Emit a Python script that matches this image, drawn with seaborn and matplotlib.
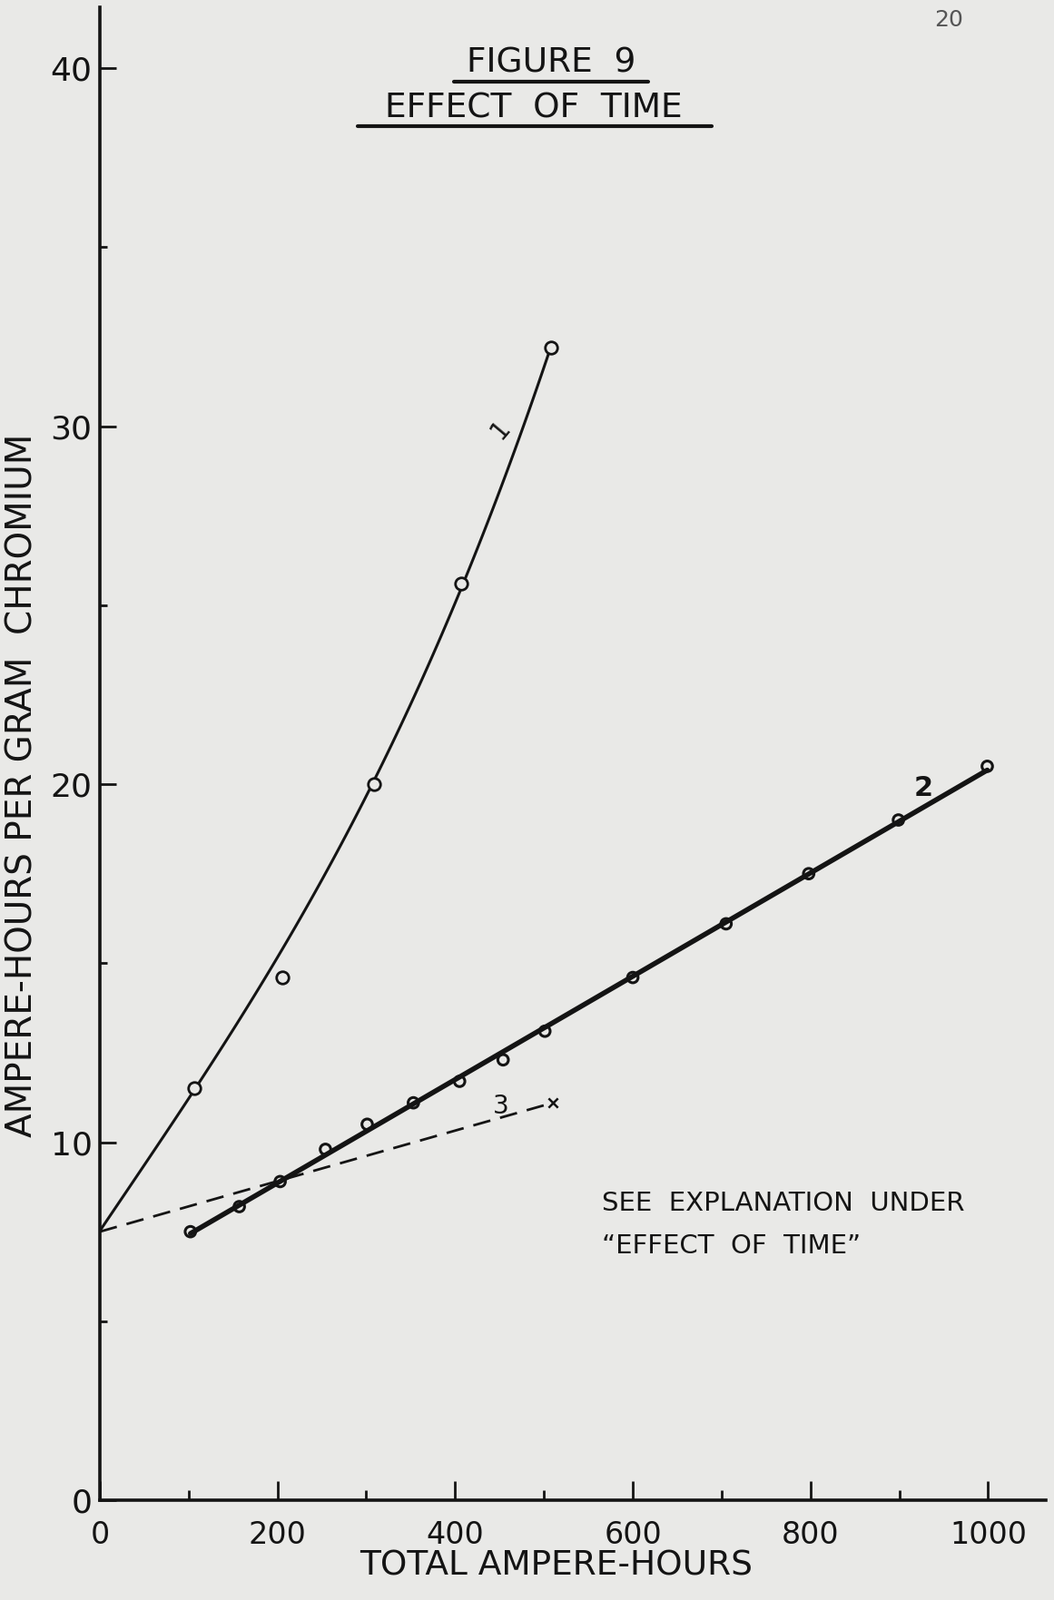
import pandas as pd
import matplotlib
matplotlib.use("Agg")
import matplotlib.pyplot as plt
from matplotlib.lines import Line2D
from matplotlib.ticker import MultipleLocator
import seaborn as sns

# values
curve1_x = [106, 205, 309, 407, 508]
curve1_y = [11.5, 14.6, 20.0, 25.6, 32.2]
# the hand-drawn curve 1 starts on the axis and passes by the 205 point
curve1_line_x = [0, 106, 309, 407, 508]
curve1_line_y = [7.5, 11.5, 20.0, 25.6, 32.2]

curve2_x = [102, 157, 203, 254, 301, 353, 405, 454, 501, 600, 705, 798, 899, 999]
curve2_y = [7.5, 8.2, 8.9, 9.8, 10.5, 11.1, 11.7, 12.3, 13.1, 14.6, 16.1, 17.5, 19.0, 20.5]

curve3_x = [0, 510]
curve3_y = [7.5, 11.1]

x_ticks = [0, 200, 400, 600, 800, 1000]
y_ticks = [0, 10, 20, 30, 40]

PAPER = "#e9e9e7"
INK = "#141414"

sns.set_theme(style="ticks")
plt.rcParams["font.family"] = ["DejaVu Sans"]

fig = plt.figure(figsize=(11.61, 17.63), dpi=100, facecolor=PAPER)
ax = fig.add_axes([0.0947, 0.0624, 0.8976, 0.933], facecolor=PAPER)

c1 = pd.DataFrame({"x": curve1_line_x, "y": curve1_line_y})
c2 = pd.DataFrame({"x": curve2_x, "y": curve2_y})
c3 = pd.DataFrame({"x": curve3_x, "y": curve3_y})

# curve 1: smooth hand-drawn curve
sns.regplot(data=c1, x="x", y="y", order=3, ci=None, scatter=False, ax=ax,
            line_kws={"color": INK, "lw": 2.2, "zorder": 3})
sns.scatterplot(x=curve1_x, y=curve1_y, ax=ax, marker="o", s=95,
                facecolor=PAPER, edgecolor=INK, linewidth=2.0, zorder=4)

# curve 2: heavy straight line
sns.regplot(data=c2, x="x", y="y", order=1, ci=None, scatter=False, ax=ax,
            line_kws={"color": INK, "lw": 4.0, "zorder": 3})
sns.scatterplot(x=curve2_x, y=curve2_y, ax=ax, marker="o", s=70,
                facecolor="none", edgecolor=INK, linewidth=2.2, zorder=4)

# curve 3: dashed extrapolation
sns.lineplot(data=c3, x="x", y="y", ax=ax, color=INK, lw=2.0,
             zorder=2).lines[-1].set_dashes([7, 4])
sns.scatterplot(x=curve3_x[-1:], y=curve3_y[-1:], ax=ax, marker="x", s=55,
                color=INK, linewidth=1.8, zorder=4)

# curve labels
ax.text(451, 29.9, "1", fontsize=20, color=INK, rotation=50, ha="center", va="center")
ax.text(927, 19.9, "2", fontsize=22, color=INK, fontweight="bold", ha="center", va="center")
ax.text(451, 11.0, "3", fontsize=20, color=INK, ha="center", va="center")

ax.set_xlim(0, 1065)
ax.set_ylim(0, 41.7)
ax.set_xticks(x_ticks)
ax.set_yticks(y_ticks)
ax.set_xticklabels([str(v) for v in x_ticks])
ax.set_yticklabels([str(v) for v in y_ticks])
ax.xaxis.set_minor_locator(MultipleLocator(100))
ax.yaxis.set_minor_locator(MultipleLocator(5))
ax.tick_params(axis="x", which="major", direction="in", length=15, width=2,
               pad=16, labelsize=24, colors=INK)
ax.tick_params(axis="x", which="minor", direction="in", length=8, width=2, colors=INK)
ax.tick_params(axis="y", which="major", direction="in", length=13, width=2,
               pad=6, labelsize=26, colors=INK)
ax.tick_params(axis="y", which="minor", direction="in", length=6, width=2, colors=INK)
ax.set_xlabel("")
ax.set_ylabel("")

for side in ["top", "right"]:
    ax.spines[side].set_visible(False)
for side in ["left", "bottom"]:
    ax.spines[side].set_linewidth(2.6)
    ax.spines[side].set_color(INK)

# axis titles
fig.text(0.528, 0.021, "TOTAL AMPERE-HOURS", fontsize=27, color=INK,
         ha="center", va="center")
fig.text(0.0215, 0.509, "AMPERE-HOURS PER GRAM  CHROMIUM", fontsize=28, color=INK,
         rotation=90, ha="center", va="center")

# heading with underlines
fig.text(0.523, 0.9605, "FIGURE  9", fontsize=27, color=INK, ha="center", va="center")
fig.text(0.506, 0.9325, "EFFECT  OF  TIME", fontsize=27, color=INK, ha="center", va="center")
fig.add_artist(Line2D([0.431, 0.615], [0.949, 0.949], transform=fig.transFigure,
                      color=INK, lw=3))
fig.add_artist(Line2D([0.339, 0.675], [0.921, 0.921], transform=fig.transFigure,
                      color=INK, lw=3))

# page number
fig.text(0.900, 0.9875, "20", fontsize=18, color="#555555", ha="center", va="center")

# note
fig.text(0.571, 0.248, "SEE  EXPLANATION  UNDER", fontsize=21, color=INK,
         ha="left", va="center")
fig.text(0.571, 0.221, "\u201cEFFECT  OF  TIME\u201d", fontsize=21, color=INK,
         ha="left", va="center")

fig.savefig("out.png", dpi=100, facecolor=PAPER)
